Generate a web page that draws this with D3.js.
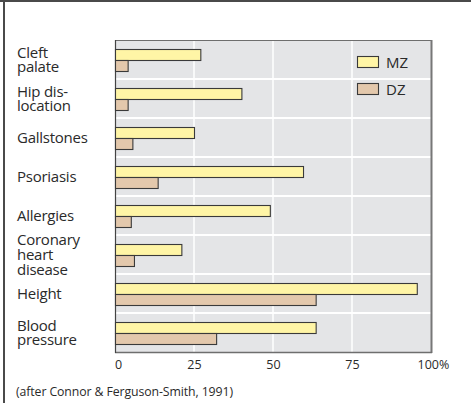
<!DOCTYPE html>
<html>
<head>
<meta charset="utf-8">
<script src="https://cdn.jsdelivr.net/npm/d3@7"></script>
<style>
  html, body { margin: 0; padding: 0; background: #fff; }
  svg { display: block; }
  text { font-family: "Open Sans", "Noto Sans", sans-serif; fill: #2a2a2a; }
</style>
</head>
<body>
<script>
// ---- data ----
const categories = ["Cleft\npalate", "Hip dis-\nlocation", "Gallstones", "Psoriasis",
                    "Allergies", "Coronary\nheart\ndisease", "Height", "Blood\npressure"];
const seriesNames = ["MZ", "DZ"];
const mzValues = [27, 40, 25, 59.5, 49, 21, 95.5, 63.5];
const dzValues = [4, 4, 5.5, 13.5, 5, 6, 63.5, 32];
const tickValues = [0, 25, 50, 75, 100];
const tickLabels = ["0", "25", "50", "75", "100%"];
const caption = "(after Connor & Ferguson-Smith, 1991)";

// ---- layout ----
const W = 471, H = 403;
const plot = { left: 115, right: 431, top: 40, bottom: 352 };
const colors = { MZ: "#fff5a6", DZ: "#e3c8ac" };

const svg = d3.select("body").append("svg").attr("width", W).attr("height", H);

// outer frame (top + left lines)
svg.append("line").attr("x1", 0).attr("x2", W).attr("y1", 1).attr("y2", 1)
  .attr("stroke", "#4a4a4a").attr("stroke-width", 2);
svg.append("line").attr("x1", 4).attr("x2", 4).attr("y1", 0).attr("y2", H)
  .attr("stroke", "#4a4a4a").attr("stroke-width", 2);

const x = d3.scaleLinear().domain([0, 100]).range([plot.left, plot.right]);
const y = d3.scaleBand().domain(categories).range([plot.top, plot.bottom]).padding(0);
const barH = 11;
const sub = d3.scaleBand().domain(seriesNames)
  .range([(y.bandwidth() - 2 * barH) / 2, (y.bandwidth() + 2 * barH) / 2]);

// plot background
svg.append("rect").attr("x", plot.left).attr("y", plot.top)
  .attr("width", plot.right - plot.left).attr("height", plot.bottom - plot.top)
  .attr("fill", "#e4e5e7");

// vertical white gridlines
svg.append("g").selectAll("line").data(tickValues.slice(1, -1)).join("line")
  .attr("x1", d => x(d)).attr("x2", d => x(d))
  .attr("y1", plot.top).attr("y2", plot.bottom)
  .attr("stroke", "#fff").attr("stroke-width", 1.5);

// horizontal white separators between bands
svg.append("g").selectAll("line").data(categories.slice(1)).join("line")
  .attr("x1", plot.left).attr("x2", plot.right)
  .attr("y1", d => y(d)).attr("y2", d => y(d))
  .attr("stroke", "#fff").attr("stroke-width", 2);

// plot border
svg.append("line").attr("x1", plot.left).attr("x2", plot.right + 1)
  .attr("y1", plot.top + 0.5).attr("y2", plot.top + 0.5).attr("stroke", "#6e6e6e").attr("stroke-width", 1);
svg.append("line").attr("x1", plot.right + 0.5).attr("x2", plot.right + 0.5)
  .attr("y1", plot.top).attr("y2", plot.bottom + 1).attr("stroke", "#777").attr("stroke-width", 2);
svg.append("line").attr("x1", plot.left).attr("x2", plot.right + 1)
  .attr("y1", plot.bottom + 0.5).attr("y2", plot.bottom + 0.5).attr("stroke", "#6e6e6e").attr("stroke-width", 1.5);
svg.append("line").attr("x1", plot.left + 0.5).attr("x2", plot.left + 0.5)
  .attr("y1", plot.top).attr("y2", plot.bottom + 1).attr("stroke", "#444").attr("stroke-width", 1.2);

// bars
const rows = categories.map((c, i) => ({ cat: c, MZ: mzValues[i], DZ: dzValues[i] }));
const gRows = svg.append("g").selectAll("g").data(rows).join("g")
  .attr("transform", d => `translate(0,${y(d.cat)})`);
gRows.selectAll("rect").data(d => seriesNames.map(s => ({ s, v: d[s] }))).join("rect")
  .attr("x", x(0) + 0.5)
  .attr("y", d => Math.round(sub(d.s)) + 0.5)
  .attr("width", d => x(d.v) - x(0))
  .attr("height", barH)
  .attr("fill", d => colors[d.s])
  .attr("stroke", "#3a3a3a").attr("stroke-width", 1.1);

// category labels
const lineH = 14.8;
svg.append("g").selectAll("text").data(categories).join("text")
  .attr("x", 17)
  .attr("font-size", 15)
  .attr("letter-spacing", -0.25)
  .each(function (d) {
    const lines = d.split("\n");
    const cy = y(d) + y.bandwidth() / 2;
    const first = cy + 5.5 - (lines.length - 1) * lineH / 2;
    d3.select(this).selectAll("tspan").data(lines).join("tspan")
      .attr("x", 17).attr("y", (l, i) => first + i * lineH).text(l => l);
  });

// x axis labels
const axis = d3.axisBottom(x).tickValues(tickValues).tickSize(0)
  .tickFormat((d, i) => tickLabels[i]);
const gx = svg.append("g").attr("transform", `translate(0,${plot.bottom})`).call(axis);
gx.select(".domain").remove();
gx.selectAll("text").attr("font-size", 12.5).attr("fill", "#2a2a2a")
  .attr("font-family", "'Open Sans', 'Noto Sans', sans-serif")
  .attr("dy", null).attr("y", 16.5);
gx.selectAll(".tick").filter(d => d === 0).select("text").attr("dx", 3);
gx.selectAll(".tick").filter(d => d === 100).select("text")
  .attr("text-anchor", "start").attr("dx", -14);

// legend
const lg = svg.append("g").selectAll("g").data(seriesNames).join("g")
  .attr("transform", (d, i) => `translate(357,${56 + i * 27})`);
lg.append("rect").attr("x", 0.5).attr("y", 0.5).attr("width", 21).attr("height", 11)
  .attr("fill", d => colors[d]).attr("stroke", "#3a3a3a").attr("stroke-width", 1.1);
lg.append("text").attr("x", 29).attr("y", 11.5).attr("font-size", 15).text(d => d);

// caption
svg.append("text").attr("x", 16).attr("y", 396).attr("font-size", 12.3)
  .attr("letter-spacing", -0.1).text(caption);
</script>
</body>
</html>
